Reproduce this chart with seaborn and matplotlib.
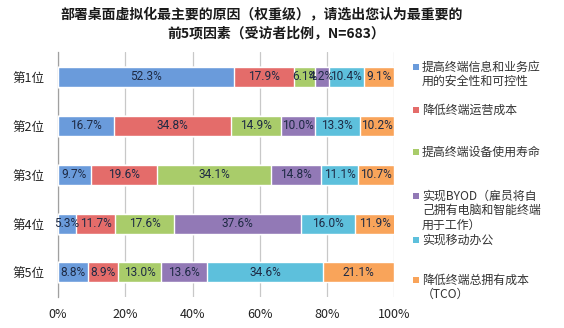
import matplotlib
matplotlib.use("Agg")
import matplotlib.pyplot as plt
from matplotlib.patches import Rectangle
from matplotlib.ticker import FuncFormatter
import numpy as np
import pandas as pd
import seaborn as sns

sns.set_theme(style="white")
plt.rcParams["font.family"] = ["Noto Sans CJK SC", "DejaVu Sans"]

# Ranking positions (rows) and the six reasons (stacked segments)
ranks = ["第1位", "第2位", "第3位", "第4位", "第5位"]
reasons = [
    "提高终端信息和业务应\n用的安全性和可控性",
    "降低终端运营成本",
    "提高终端设备使用寿命",
    "实现BYOD（雇员将自\n己拥有电脑和智能终端\n用于工作）",
    "实现移动办公",
    "降低终端总拥有成本\n（TCO）",
]
# Share of respondents (%) for each reason, per rank
security = [52.3, 16.7, 9.7, 5.3, 8.8]
opex = [17.9, 34.8, 19.6, 11.7, 8.9]
lifetime = [6.1, 14.9, 34.1, 17.6, 13.0]
byod = [4.2, 10.0, 14.8, 37.6, 13.6]
mobile = [10.4, 13.3, 11.1, 16.0, 34.6]
tco = [9.1, 10.2, 10.7, 11.9, 21.1]

series = [security, opex, lifetime, byod, mobile, tco]
colors = ["#6A9BDB", "#E46C6A", "#A9CC6A", "#9279B6", "#5DC0DC", "#F9A45A"]

values = np.array(series)            # shape (6, 5)
ends = np.cumsum(values, axis=0)     # right edge of each segment
starts = ends - values

fig = plt.figure(figsize=(5.64, 3.28), dpi=100)
ax = fig.add_axes([0.103, 0.095, 0.596, 0.745])

# Stacked horizontal bars: draw cumulative totals from the last series back
for i in reversed(range(len(series))):
    df = pd.DataFrame({"rank": ranks, "end": ends[i]})
    sns.barplot(data=df, x="end", y="rank", orient="h", color=colors[i],
                width=0.41, saturation=1, ax=ax, zorder=3)

# Segment value labels
for i in range(len(series)):
    for j in range(len(ranks)):
        ax.text(starts[i, j] + values[i, j] / 2, j, f"{values[i, j]:.1f}%",
                ha="center", va="center", fontsize=8.6, color="#1E2A44",
                family=["Roboto", "DejaVu Sans"], zorder=5)

ax.set_xlim(0, 100)
ax.set_ylim(4.5, -0.5)
ax.set_xticks(np.arange(0, 101, 20))
ax.xaxis.set_major_formatter(FuncFormatter(lambda v, p: f"{v:.0f}%"))
ax.grid(axis="x", color="#C8C8C8", linewidth=0.9, zorder=0)
ax.set_xlabel("")
ax.set_ylabel("")
for s in ["top", "right", "bottom"]:
    ax.spines[s].set_visible(False)
ax.spines["left"].set_color("#A0A0A0")
ax.spines["left"].set_linewidth(0.9)
ax.tick_params(axis="x", length=0, labelsize=9, colors="#222222", pad=8)
ax.tick_params(axis="y", which="major", length=0, labelsize=9,
               colors="#222222", pad=10)
ax.set_yticks(np.arange(-0.5, 5, 1), minor=True)
ax.tick_params(axis="y", which="minor", length=3, color="#A0A0A0", width=0.9)

fig.text(0.463, 0.955, "部署桌面虚拟化最主要的原因（权重级），请选出您认为最重要的",
         ha="center", va="center", fontsize=10, fontweight="bold",
         color="#1A1A1A")
fig.text(0.49, 0.9, "前5项因素（受访者比例，N=683）",
         ha="center", va="center", fontsize=10, fontweight="bold",
         color="#1A1A1A")

# Legend on the right, one text per wrapped line
W, H = 564, 328
legend_y = [67, 110, 152, 196, 240, 280]
pitch = 14.5
for lab, col, yp in zip(reasons, colors, legend_y):
    fig.patches.append(Rectangle((413 / W, 1 - (yp + 3) / H), 6 / W, 6 / H,
                                 transform=fig.transFigure, facecolor=col,
                                 edgecolor="none"))
    for k, line in enumerate(lab.split("\n")):
        fig.text(422 / W, 1 - (yp + k * pitch) / H, line, ha="left",
                 va="center", fontsize=8.6, color="#333333")

fig.savefig("out.png", dpi=100)
